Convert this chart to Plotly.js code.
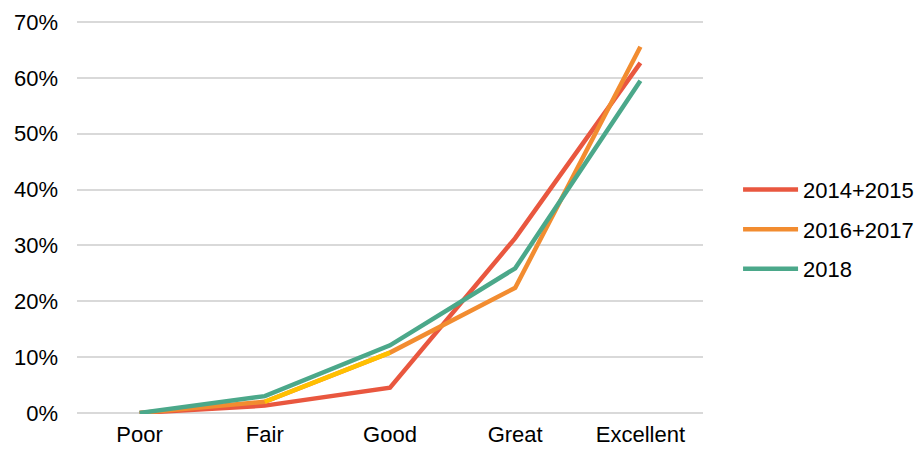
<!DOCTYPE html>
<html>
<head>
<meta charset="utf-8">
<script src="https://cdn.plot.ly/plotly-3.0.1.min.js"></script>
<style>html,body{margin:0;padding:0;background:#fff;}#chart{width:924px;height:449px;}</style>
</head>
<body>
<div id="chart"></div>
<script>
const categories = ["Poor", "Fair", "Good", "Great", "Excellent"];
const seriesNames = ["2014+2015", "2016+2017", "2018"];
const values2014_2015 = [0.0, 0.013, 0.045, 0.313, 0.627];
const values2016_2017 = [0.0, 0.020, 0.108, 0.224, 0.656];
const values2018 = [0.0, 0.030, 0.121, 0.259, 0.595];
const yTickVals = [0, 0.1, 0.2, 0.3, 0.4, 0.5, 0.6, 0.7];

const colors = ["#E9573F", "#F28C30", "#4BA88A"];
const highlightColor = "#FFC000";
const lw = 4.5;

const traces = [
  {x: categories, y: values2014_2015, name: seriesNames[0], type: "scatter", mode: "lines",
   legendgroup: "a", line: {color: colors[0], width: lw}},
  {x: categories, y: values2016_2017, name: seriesNames[1], type: "scatter", mode: "lines",
   legendgroup: "b", line: {color: colors[1], width: lw}},
  {x: categories.slice(1, 3), y: values2016_2017.slice(1, 3), name: seriesNames[1], type: "scatter", mode: "lines",
   legendgroup: "b", line: {color: highlightColor, width: lw}, showlegend: false, hoverinfo: "skip"},
  {x: categories, y: values2018, name: seriesNames[2], type: "scatter", mode: "lines",
   legendgroup: "c", line: {color: colors[2], width: lw}}
];

const font = "Liberation Sans, Arial, Helvetica, sans-serif";
const fs = 22;
const layout = {
  width: 924, height: 449,
  margin: {l: 77, r: 221, t: 21, b: 35, pad: 0, autoexpand: false},
  paper_bgcolor: "#fff", plot_bgcolor: "#fff",
  font: {family: font, size: fs, color: "#000"},
  showlegend: true,
  xaxis: {type: "category", range: [-0.5, 4.5], showgrid: false, zeroline: false,
          showline: false, ticks: "", ticklabelstandoff: 5, automargin: false,
          tickfont: {family: font, size: fs, color: "#000"}},
  yaxis: {range: [-0.002, 0.702], tickvals: yTickVals, tickformat: ".0%",
          showgrid: true, gridcolor: "#D9D9D9", gridwidth: 2, automargin: false,
          zeroline: false, showline: false, ticks: "", ticklabelstandoff: 18,
          tickfont: {family: font, size: fs, color: "#000"}},
  legend: {x: 1.056, y: 0.47, xanchor: "left", yanchor: "middle",
           traceorder: "grouped",
           font: {family: font, size: fs, color: "#000"},
           itemwidth: 55, tracegroupgap: 8, bgcolor: "rgba(0,0,0,0)"}
};

Plotly.newPlot("chart", traces, layout, {displayModeBar: false, staticPlot: true});
</script>
</body>
</html>
